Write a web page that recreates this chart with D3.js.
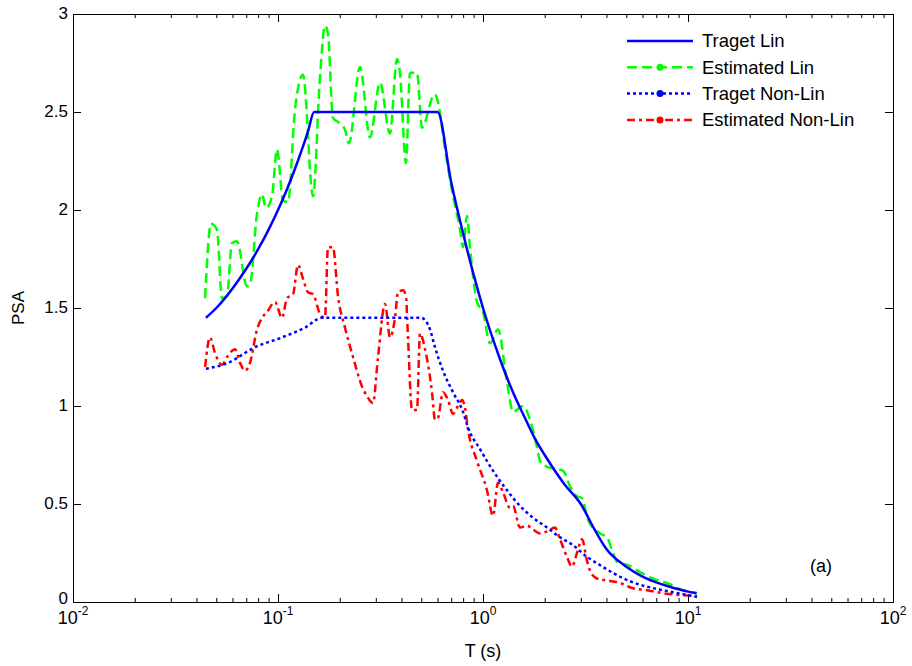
<!DOCTYPE html>
<html>
<head>
<meta charset="utf-8">
<script src="https://cdn.jsdelivr.net/npm/d3@7"></script>
<style>
  body { margin: 0; background: #fff; }
  svg { font-family: "Liberation Sans", Arial, sans-serif; }
</style>
</head>
<body>
<svg id="chart" width="912" height="666"></svg>
<script>
// periods (s) and PSA values
const targetLinT = [0.0445,0.05,0.06,0.07,0.08,0.09,0.1,0.11,0.12,0.13,0.14,0.15,0.2,0.3,0.4,0.5,0.6,0.7,0.8,0.9,1.0,1.2,1.4,1.6,1.8,2.0,2.5,3.0,3.5,4,5,6,7,8,9,10,11];
const targetLin = [1.45,1.50,1.60,1.70,1.80,1.90,2.00,2.10,2.20,2.30,2.40,2.50,2.50,2.50,2.50,2.50,2.50,2.14,1.88,1.67,1.50,1.25,1.07,0.94,0.83,0.75,0.60,0.50,0.37,0.27,0.18,0.13,0.10,0.08,0.065,0.053,0.045];

const estLinT = [0.0441,0.0471,0.0504,0.0533,0.0564,0.0596,0.0631,0.0706,0.0730,0.0790,0.0836,0.0874,0.0935,0.0989,0.1058,0.1119,0.1210,0.1324,0.1482,0.1603,0.1695,0.1753,0.1854,0.1962,0.2122,0.2220,0.2512,0.2811,0.3145,0.3518,0.3806,0.3936,0.4210,0.4404,0.4764,0.5040,0.5703,0.583,0.6034,0.6527,0.706,0.7724,0.7989,0.8356,0.8641,0.9348,1.0,1.082,1.184,1.31,1.401,1.567,1.696,1.834,1.897,2.052,2.245,2.456,2.657,2.874,3.04,3.252,3.722,4.026,4.31,4.555,5.04,5.834,6.75,7.90,9.45,11.07];
const estLin = [1.55,1.93,1.90,1.55,1.56,1.83,1.84,1.61,1.62,1.98,2.08,2.01,2.07,2.31,2.05,2.04,2.51,2.69,2.07,2.68,2.94,2.90,2.47,2.45,2.41,2.34,2.73,2.37,2.65,2.39,2.77,2.70,2.24,2.70,2.70,2.42,2.58,2.59,2.55,2.31,2.10,1.90,1.81,1.97,1.81,1.53,1.48,1.32,1.39,1.12,0.97,1.00,0.93,0.79,0.72,0.69,0.68,0.67,0.59,0.54,0.53,0.42,0.35,0.33,0.25,0.20,0.19,0.153,0.12,0.097,0.06,0.046];

const targetNonLinT = [0.0445,0.057,0.0772,0.1046,0.1354,0.1639,0.2,0.3,0.4,0.5,0.5515,0.5832,0.638,0.714,0.799,0.845,0.967,1.119,1.31,1.515,1.754,2.052,2.375,2.748,3.216,3.7,4.31,5.39,6.75,8.45,11.07];
const targetNonLin = [1.19,1.22,1.30,1.35,1.40,1.45,1.45,1.45,1.45,1.45,1.39,1.30,1.18,1.07,0.97,0.89,0.78,0.67,0.57,0.49,0.43,0.38,0.33,0.29,0.23,0.19,0.148,0.10,0.071,0.05,0.026];

const estNonLinT = [0.0441,0.0466,0.0493,0.0533,0.0564,0.0617,0.0653,0.0690,0.0730,0.0790,0.0836,0.0884,0.0967,0.1046,0.1106,0.1184,0.1252,0.1324,0.1401,0.1482,0.1603,0.1695,0.1753,0.1854,0.1962,0.2122,0.2322,0.2569,0.2717,0.2906,0.3075,0.3327,0.3518,0.3722,0.3849,0.4073,0.4210,0.4306,0.4505,0.4764,0.4929,0.5213,0.5639,0.5832,0.6034,0.638,0.6752,0.714,0.7551,0.7901,0.8171,0.845,0.9348,1.046,1.119,1.184,1.252,1.354,1.401,1.515,1.639,1.754,1.897,2.052,2.245,2.375,2.569,2.717,2.874,3.04,3.216,3.327,3.598,4.026,4.658,5.393,6.31,7.55,9.14,11.07];
const estNonLin = [1.20,1.35,1.27,1.21,1.25,1.29,1.22,1.18,1.22,1.39,1.45,1.48,1.53,1.45,1.55,1.57,1.72,1.65,1.58,1.57,1.47,1.45,1.81,1.81,1.56,1.40,1.25,1.10,1.05,1.015,1.25,1.52,1.35,1.45,1.58,1.59,1.56,1.35,0.98,0.98,1.37,1.29,1.07,0.93,0.94,1.07,1.03,0.96,1.00,1.03,0.99,0.88,0.72,0.57,0.44,0.61,0.56,0.48,0.49,0.38,0.39,0.37,0.35,0.36,0.38,0.32,0.23,0.18,0.25,0.32,0.21,0.16,0.12,0.11,0.097,0.07,0.06,0.045,0.036,0.031];

const seriesNames = ["Traget Lin", "Estimated Lin", "Traget Non-Lin", "Estimated Non-Lin"];
const xMajor = [0.01, 0.1, 1, 10, 100], xExp = ["-2", "-1", "0", "1", "2"];
const yTicks = [0, 0.5, 1, 1.5, 2, 2.5, 3], yTickLabels = ["0", "0.5", "1", "1.5", "2", "2.5", "3"];

const m = {left: 73, right: 893, top: 14, bottom: 602};
const svg = d3.select("#chart");
const x = d3.scaleLog().domain([0.01, 100]).range([m.left, m.right]);
const y = d3.scaleLinear().domain([0, 3]).range([m.bottom, m.top]);
const xMinor = x.ticks().filter(t => !xMajor.some(v => Math.abs(v - t) < 1e-9));

const series = [
  {name: seriesNames[0], T: targetLinT, v: targetLin, color: "#0000ff", dash: null, dot: false},
  {name: seriesNames[1], T: estLinT, v: estLin, color: "#00ff00", dash: "10,5", dot: true},
  {name: seriesNames[2], T: targetNonLinT, v: targetNonLin, color: "#0000ff", dash: "3,3", dot: true},
  {name: seriesNames[3], T: estNonLinT, v: estNonLin, color: "#ff0000", dash: "8,4,3,4", dot: true}
];

// axes box with inward ticks
function tidy(g) { g.selectAll("text").remove(); g.selectAll("path,line").attr("stroke", "#000"); }
svg.append("g").attr("transform", `translate(0,${m.bottom})`).call(d3.axisBottom(x).tickValues(xMajor).tickSize(-8).tickSizeOuter(0)).call(tidy);
svg.append("g").attr("transform", `translate(0,${m.bottom})`).call(d3.axisBottom(x).tickValues(xMinor).tickSize(-4).tickSizeOuter(0)).call(tidy);
svg.append("g").attr("transform", `translate(0,${m.top})`).call(d3.axisTop(x).tickValues(xMajor).tickSize(-8).tickSizeOuter(0)).call(tidy);
svg.append("g").attr("transform", `translate(0,${m.top})`).call(d3.axisTop(x).tickValues(xMinor).tickSize(-4).tickSizeOuter(0)).call(tidy);
svg.append("g").attr("transform", `translate(${m.left},0)`).call(d3.axisLeft(y).tickValues(yTicks).tickSize(-8).tickSizeOuter(0)).call(tidy);
svg.append("g").attr("transform", `translate(${m.right},0)`).call(d3.axisRight(y).tickValues(yTicks).tickSize(-8).tickSizeOuter(0)).call(tidy);

// tick labels (the 0 sits a little higher so it clears the 10^-2 below it)
svg.append("g").selectAll("text").data(yTicks).join("text")
  .attr("x", m.left - 5).attr("y", d => y(d)).attr("dy", d => d === 0 ? "0.1em" : "0.3em")
  .attr("text-anchor", "end").attr("font-size", 17)
  .text((d, i) => yTickLabels[i]);

svg.append("g").selectAll("text").data(xMajor).join("text")
  .attr("x", d => x(d)).attr("y", 624).attr("text-anchor", "middle").attr("font-size", 18)
  .each(function(d, i) {
    const t = d3.select(this);
    t.append("tspan").text("10");
    t.append("tspan").attr("dy", -9).attr("font-size", 12).text(xExp[i]);
  });

svg.append("text").attr("x", 483).attr("y", 657).attr("text-anchor", "middle").attr("font-size", 18).text("T (s)");
svg.append("text").attr("transform", "translate(24,308) rotate(-90)").attr("text-anchor", "middle").attr("font-size", 17).text("PSA");
svg.append("text").attr("x", 821).attr("y", 572).attr("text-anchor", "middle").attr("font-size", 18).text("(a)");

// curves
const line = d3.line().x(d => x(d[0])).y(d => y(d[1])).curve(d3.curveMonotoneX);
const plot = svg.append("g");
series.slice().reverse().forEach(s => {
  plot.append("path")
    .datum(s.T.map((t, i) => [t, s.v[i]]))
    .attr("fill", "none")
    .attr("stroke", s.color)
    .attr("stroke-width", 2.5)
    .attr("stroke-dasharray", s.dash)
    .attr("d", line);
});

// legend
const lg = svg.append("g").selectAll("g").data(series).join("g")
  .attr("transform", (d, i) => `translate(627, ${41 + i * 26.3})`);
lg.append("line").attr("x1", 0).attr("x2", 66).attr("y1", 0).attr("y2", 0)
  .attr("stroke", d => d.color).attr("stroke-width", 2.5).attr("stroke-dasharray", d => d.dash);
lg.filter(d => d.dot).append("circle").attr("cx", 33).attr("cy", 0).attr("r", 3.5).attr("fill", d => d.color);
lg.append("text").attr("x", 75).attr("y", 0).attr("dy", "0.35em").attr("font-size", 18.5).text(d => d.name);
</script>
</body>
</html>
